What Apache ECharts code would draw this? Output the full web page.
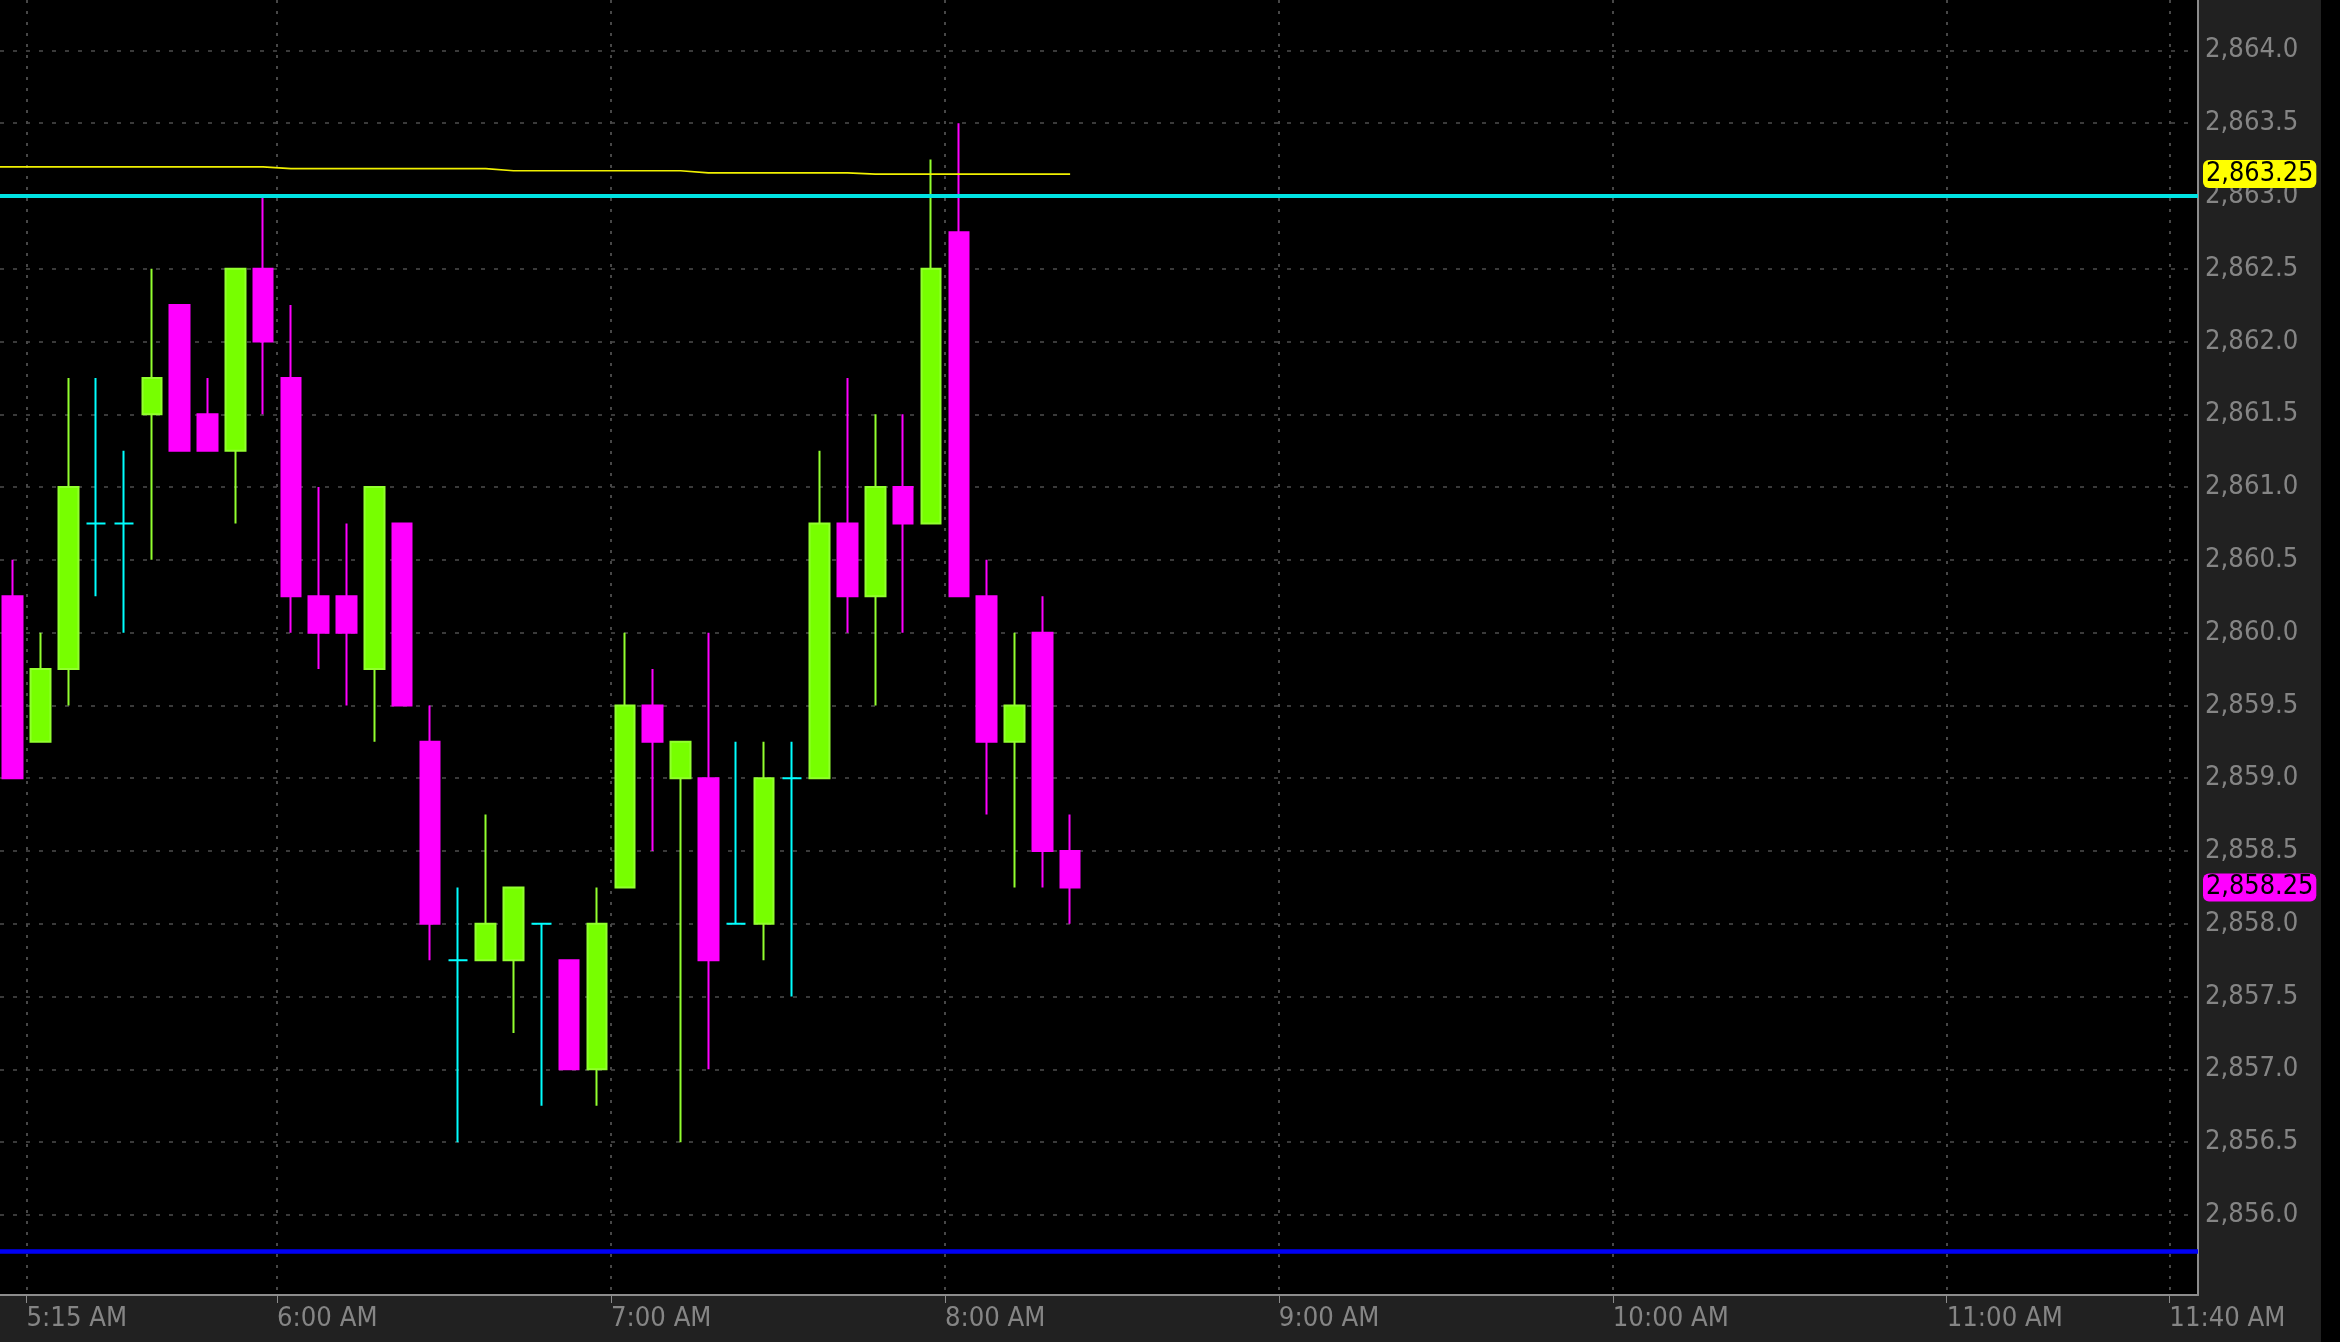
<!DOCTYPE html>
<html>
<head>
<meta charset="utf-8">
<script src="https://cdn.jsdelivr.net/npm/echarts@6/dist/echarts.min.js"></script>
<style>
html,body{margin:0;padding:0;background:#000;}
#chart{width:2340px;height:1342px;}
</style>
</head>
<body>
<div id="chart"></div>
<script>
// ---- data (5-minute bars, bar start times) ----
const barTimes = ['5:10','5:15','5:20','5:25','5:30','5:35','5:40','5:45','5:50','5:55',
  '6:00','6:05','6:10','6:15','6:20','6:25','6:30','6:35','6:40','6:45','6:50','6:55',
  '7:00','7:05','7:10','7:15','7:20','7:25','7:30','7:35','7:40','7:45','7:50','7:55',
  '8:00','8:05','8:10','8:15','8:20'];
const openVals  = [2860.25,2859.25,2859.75,2860.75,2860.75,2861.5,2862.25,2861.5,2861.25,2862.5,
  2861.75,2860.25,2860.25,2859.75,2860.75,2859.25,2857.75,2857.75,2857.75,2858.0,2857.75,2857.0,
  2858.25,2859.5,2859.0,2859.0,2858.0,2858.0,2859.0,2859.0,2860.75,2860.25,2861.0,2860.75,
  2862.75,2860.25,2859.25,2860.0,2858.5];
const highVals  = [2860.5,2860.0,2861.75,2861.75,2861.25,2862.5,2862.25,2861.75,2862.5,2863.0,
  2862.25,2861.0,2860.75,2861.0,2860.75,2859.5,2858.25,2858.75,2858.25,2858.0,2857.75,2858.25,
  2860.0,2859.75,2859.25,2860.0,2859.25,2859.25,2859.25,2861.25,2861.75,2861.5,2861.5,2863.25,
  2863.5,2860.5,2860.0,2860.25,2858.75];
const lowVals   = [2859.0,2859.25,2859.5,2860.25,2860.0,2860.5,2861.25,2861.25,2860.75,2861.5,
  2860.0,2859.75,2859.5,2859.25,2859.5,2857.75,2856.5,2857.75,2857.25,2856.75,2857.0,2856.75,
  2858.25,2858.5,2856.5,2857.0,2858.0,2857.75,2857.5,2859.0,2860.0,2859.5,2860.0,2860.75,
  2860.25,2858.75,2858.25,2858.25,2858.0];
const closeVals = [2859.0,2859.75,2861.0,2860.75,2860.75,2861.75,2861.25,2861.25,2862.5,2862.0,
  2860.25,2860.0,2860.0,2861.0,2859.5,2858.0,2857.75,2858.0,2858.25,2858.0,2857.0,2858.0,
  2859.5,2859.25,2859.25,2857.75,2858.0,2859.0,2859.0,2860.75,2860.25,2861.0,2860.75,2862.5,
  2860.25,2859.25,2859.5,2858.5,2858.25];

// moving-average style yellow study (one value per bar, starting one bar earlier)
const maTimes = ['5:05'].concat(barTimes);
const maVals = [2863.20,
  2863.20,2863.20,2863.20,2863.20,2863.20,2863.20,2863.20,2863.20,2863.20,2863.20,
  2863.187,2863.187,2863.187,2863.187,2863.187,2863.187,2863.187,2863.187,
  2863.173,2863.173,2863.173,2863.173,2863.173,2863.173,2863.173,
  2863.158,2863.158,2863.158,2863.158,2863.158,2863.158,
  2863.15,2863.15,2863.15,2863.15,2863.15,2863.15,2863.15,2863.15];

const xTickLabels = ['5:15','6:00','7:00','8:00','9:00','10:00','11:00','11:40'];
const yTickLabels = [2856.0,2856.5,2857.0,2857.5,2858.0,2858.5,2859.0,2859.5,2860.0,
  2860.5,2861.0,2861.5,2862.0,2862.5,2863.0,2863.5,2864.0];
const cyanLevel = 2863.0;
const blueLevel = 2855.75;

// ---- helpers ----
const toMin = s => { const p = s.split(':').map(Number); return p[0] * 60 + p[1]; };
const BAR_MIN = 5;
const fmtTime = m => {
  const h = Math.floor(m / 60), mm = Math.round(m % 60);
  const ap = h >= 12 ? 'PM' : 'AM';
  const hh = h % 12 === 0 ? 12 : h % 12;
  return hh + ':' + (mm < 10 ? '0' + mm : mm) + ' ' + ap;
};
const fmtPrice = (v, d) => {
  const s = v.toFixed(d);
  const parts = s.split('.');
  return parts[0].replace(/\B(?=(\d{3})+(?!\d))/g, ',') + (parts[1] ? '.' + parts[1] : '');
};

const UP = '#77ff00', UP_BORDER = '#92ff2e', DOWN = '#ff00ff', DOJI = '#00ffff';

const candleData = barTimes.map((t, i) => {
  const item = { value: [toMin(t) + BAR_MIN / 2, openVals[i], closeVals[i], lowVals[i], highVals[i]] };
  if (openVals[i] === closeVals[i]) {
    item.itemStyle = { color: DOJI, color0: DOJI, borderColor: DOJI, borderColor0: DOJI };
  }
  return item;
});
const maData = maTimes.map((t, i) => [toMin(t) + BAR_MIN / 2, maVals[i]]);
const maLast = maVals[maVals.length - 1];
const lastClose = closeVals[closeVals.length - 1];

const xTickMins = xTickLabels.map(toMin);
const FONT = "'DejaVu Sans Condensed', 'DejaVu Sans'";
const FS = 27.2;

const boxLabel = (bg, text) => ({
  show: true, position: 'end', distance: 5, formatter: text,
  backgroundColor: bg, color: '#000', fontFamily: FONT, fontSize: 26.8, lineHeight: 27,
  borderRadius: 6, padding: [1, 3, 0, 3]
});

const chart = echarts.init(document.getElementById('chart'));
chart.setOption({
  backgroundColor: '#212121',
  animation: false,
  grid: { left: 0, right: 142, top: 0, bottom: 47, show: true, backgroundColor: '#000', borderWidth: 0 },
  graphic: [{ type: 'rect', right: 0, top: 0, shape: { width: 19, height: 1342 }, style: { fill: '#000' }, silent: true }],
  xAxis: {
    type: 'value', min: 310.23, max: 705.15,
    axisLine: { show: true, onZero: false, lineStyle: { color: '#8c8c8c', width: 2 } },
    axisTick: { show: true, length: 8, customValues: xTickMins, lineStyle: { color: '#8c8c8c', width: 1 } },
    axisLabel: { customValues: xTickMins, formatter: fmtTime, color: '#858585', fontFamily: FONT,
      fontSize: FS, align: 'left', margin: 10 },
    splitLine: { show: true, lineStyle: { color: '#474747', width: 2, type: [3, 8] } }
  },
  yAxis: {
    type: 'value', position: 'right', min: 2855.45, max: 2864.346,
    axisLine: { show: true, onZero: false, lineStyle: { color: '#8c8c8c', width: 2 } },
    axisTick: { show: false, customValues: yTickLabels },
    axisLabel: { customValues: yTickLabels, formatter: v => fmtPrice(v, 1), color: '#858585',
      fontFamily: FONT, fontSize: FS, margin: 7 },
    splitLine: { show: true, lineStyle: { color: '#3a3a3a', width: 2, type: [4, 9] } }
  },
  series: [
    {
      type: 'candlestick', z: 2, barWidth: 20, clip: true,
      encode: { x: 0, y: [1, 2, 3, 4] },
      itemStyle: { color: UP, color0: DOWN, borderColor: UP_BORDER, borderColor0: DOWN, borderWidth: 2 },
      data: candleData
    },
    {
      type: 'line', z: 3, showSymbol: false, silent: true, clip: true,
      lineStyle: { color: '#f0f000', width: 1.7 },
      data: maData,
      markLine: {
        silent: true, symbol: ['none', 'none'], animation: false,
        data: [
          { yAxis: cyanLevel, lineStyle: { color: '#00e3e3', width: 4, type: 'solid' }, label: { show: false } },
          { yAxis: blueLevel, lineStyle: { color: '#0000f5', width: 4.5, type: 'solid' }, label: { show: false } },
          { yAxis: maLast, lineStyle: { color: 'rgba(0,0,0,0)', width: 1 },
            label: boxLabel('#ffff00', fmtPrice(Math.round(maLast * 4) / 4, 2)) },
          { yAxis: lastClose, lineStyle: { color: 'rgba(0,0,0,0)', width: 1 },
            label: boxLabel('#ff00ff', fmtPrice(lastClose, 2)) }
        ]
      }
    }
  ]
});
</script>
</body>
</html>
